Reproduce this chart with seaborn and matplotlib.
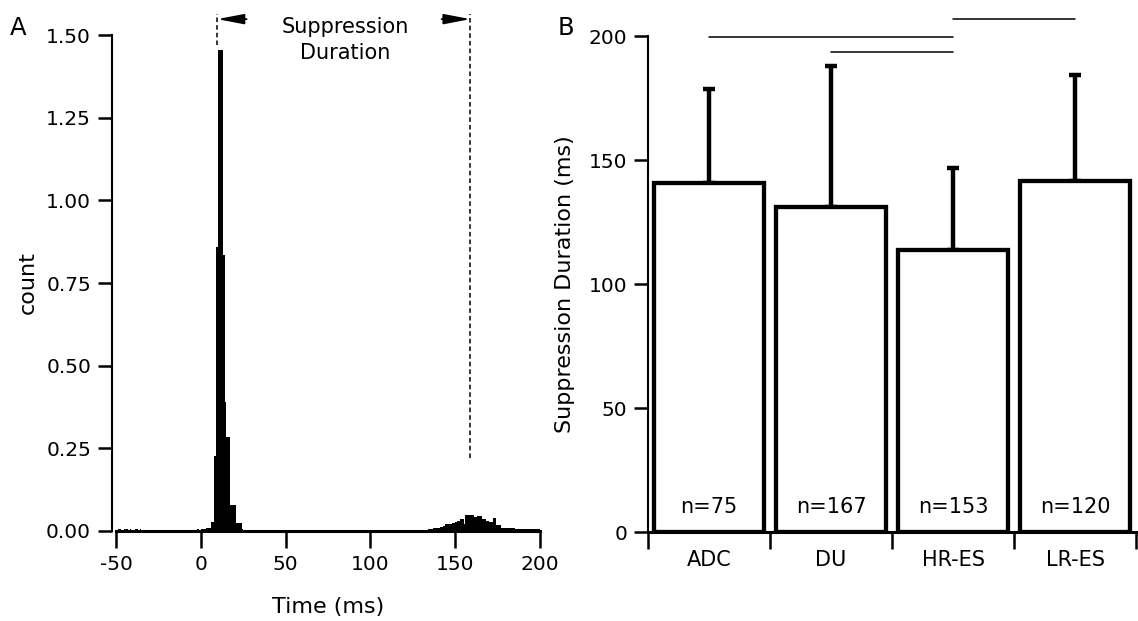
import numpy as np
import pandas as pd
import matplotlib
matplotlib.use("Agg")
import matplotlib.pyplot as plt
import seaborn as sns

# ---------------- data ----------------
# Panel A: histogram, 1 ms bins
bin_width = 1
pre_start = -50
pre_counts = [0.004, 0.005, 0.005, 0.004, 0.0, 0.005, 0.005, 0.004, 0.005, 0.0,
              0.004, 0.005, 0.005, 0.004, 0.005, 0.004]            # -50 .. -35
near0_start = -3
near0_counts = [0.004, 0.005, 0.0, 0.006, 0.005, 0.006, 0.008, 0.008, 0.008]  # -3 .. 5
peak_start = 6
peak_counts = [0.028, 0.028, 0.227, 0.86, 1.455, 1.455, 1.455, 0.835, 0.39, 0.285,
               0.285, 0.078, 0.078, 0.078, 0.078, 0.025, 0.025, 0.025, 0.007]  # 6 .. 24
hump_start = 130
hump_counts = [0.003, 0.003, 0.004, 0.004, 0.005, 0.005, 0.006, 0.008, 0.008, 0.009,
               0.01, 0.013, 0.013, 0.014, 0.02, 0.02, 0.022, 0.02, 0.025, 0.025,
               0.026, 0.031, 0.031, 0.037, 0.037, 0.022, 0.048, 0.048, 0.047, 0.048,
               0.048, 0.043, 0.043, 0.045, 0.045, 0.045, 0.035, 0.035, 0.031, 0.031,
               0.028, 0.028, 0.038, 0.038, 0.018, 0.018, 0.018, 0.01, 0.01, 0.008,
               0.008, 0.008, 0.008, 0.008, 0.008, 0.005, 0.005, 0.005, 0.005, 0.005,
               0.005, 0.005, 0.005, 0.005, 0.005, 0.005, 0.005, 0.005, 0.006, 0.006]  # 130 .. 199

# Panel B: bar chart
groups = ["ADC", "DU", "HR-ES", "LR-ES"]
means = [140.8, 131.0, 113.8, 141.5]
err_top = [178.8, 187.8, 146.8, 184.3]
n_labels = ["n=75", "n=167", "n=153", "n=120"]
sig_pairs = [(0, 2, 199.5), (1, 2, 193.5), (2, 3, 206.8)]

# -------------- build histogram table --------------
edges = np.arange(-50, 200 + bin_width, bin_width)
centers = edges[:-1] + bin_width / 2
weights = np.zeros(len(centers))
for start, vals in [(pre_start, pre_counts), (near0_start, near0_counts),
                    (peak_start, peak_counts), (hump_start, hump_counts)]:
    i0 = int((start - edges[0]) / bin_width)
    weights[i0:i0 + len(vals)] = vals
hist_df = pd.DataFrame({"t": centers, "w": weights})
bar_df = pd.DataFrame({"group": groups, "mean": means})

# ---------------- style ----------------
sns.set_theme(style="ticks")
plt.rcParams["font.family"] = ["DejaVu Sans"]
plt.rcParams.update({"text.color": "black", "axes.labelcolor": "black",
                     "xtick.color": "black", "ytick.color": "black",
                     "axes.edgecolor": "black"})
TICK_FS = 14.5
LABEL_FS = 16
TEXT_FS = 15

fig = plt.figure(figsize=(11.38, 6.21), dpi=100)

# ---------------- Panel A ----------------
axA = fig.add_axes([116 / 1138, 1 - 531 / 621, (540 - 116) / 1138, 496 / 621])
sns.histplot(data=hist_df, x="t", weights="w", binwidth=bin_width, binrange=(-50, 200),
             stat="count", color="black", edgecolor="none", alpha=1.0, linewidth=0,
             element="bars", ax=axA)
axA.set_xlim(-50, 200)
axA.set_ylim(0, 1.5)
axA.set_xticks([-50, 0, 50, 100, 150, 200])
axA.set_xticklabels(["-50", "0", "50", "100", "150", "200"])
axA.set_yticks([0, 0.25, 0.5, 0.75, 1.0, 1.25, 1.5])
axA.set_yticklabels(["0.00", "0.25", "0.50", "0.75", "1.00", "1.25", "1.50"])
axA.set_xlabel("Time (ms)", fontsize=LABEL_FS, labelpad=16)
axA.set_ylabel("count", fontsize=LABEL_FS)
axA.yaxis.set_label_coords(-0.184, 0.5)
for s in ["top", "right"]:
    axA.spines[s].set_visible(False)
axA.spines["left"].set_position(("outward", 3))
axA.spines["left"].set_linewidth(1.5)
axA.spines["bottom"].set_linewidth(2.2)
axA.tick_params(axis="y", length=10, width=1.8, labelsize=TICK_FS, pad=5)
axA.tick_params(axis="x", length=12.5, width=1.8, labelsize=TICK_FS, pad=5)

# annotation: suppression duration
x_left, x_right = 9.7, 159.0
arrow_y = 1.548
axA.plot([x_left, x_left], [1.47, 1.565], ls=(0, (3, 2)), color="black", lw=1.1, clip_on=False)
axA.plot([x_right, x_right], [0.22, 1.565], ls=(0, (3, 2)), color="black", lw=1.1, clip_on=False)
for head, tail in [(x_left, 27), (x_right, 142)]:
    axA.annotate("", xy=(head, arrow_y), xytext=(tail, arrow_y),
                 arrowprops=dict(arrowstyle="-|>,head_length=1.15,head_width=0.22",
                                 mutation_scale=14, color="black", lw=1.3,
                                 shrinkA=0, shrinkB=0),
                 annotation_clip=False)
axA.text(85, 1.485, "Suppression\nDuration", ha="center", va="center",
         fontsize=TEXT_FS, linespacing=1.35, clip_on=False)

# ---------------- Panel B ----------------
axB = fig.add_axes([648 / 1138, 1 - 532 / 621, (1136 - 648) / 1138, 496 / 621])
yerr = np.array([np.zeros(len(means)), np.array(err_top) - np.array(means)])
axB.errorbar(np.arange(len(groups)), means, yerr=yerr, fmt="none", ecolor="black",
             elinewidth=3.2, capsize=4.5, capthick=3.2, zorder=1)
sns.barplot(data=bar_df, x="group", y="mean", color="white", edgecolor="black",
            linewidth=3.1, width=0.9, errorbar=None, ax=axB, zorder=2)
axB.set_xlim(-0.5, 3.5)
axB.set_ylim(0, 200)
axB.set_yticks([0, 50, 100, 150, 200])
axB.set_xlabel("")
axB.set_ylabel("Suppression Duration (ms)", fontsize=LABEL_FS)
axB.yaxis.set_label_coords(-0.15, 0.5)
for s in ["top", "right"]:
    axB.spines[s].set_visible(False)
axB.spines["left"].set_linewidth(1.5)
axB.spines["bottom"].set_linewidth(2.2)
axB.tick_params(axis="y", length=10, width=1.8, labelsize=TICK_FS, pad=5)
axB.tick_params(axis="x", which="major", length=0, labelsize=TEXT_FS, pad=13)
axB.set_xticks([-0.5, 0.5, 1.5, 2.5, 3.5], minor=True)
axB.tick_params(axis="x", which="minor", length=12, width=1.8)
for i, lab in enumerate(n_labels):
    axB.text(i, 10, lab, ha="center", va="center", fontsize=TEXT_FS, zorder=5)
for a, b, y in sig_pairs:
    axB.plot([a, b], [y, y], color="black", lw=1.1, clip_on=False)

# panel letters
fig.text(10 / 1138, 1 - 28 / 621, "A", fontsize=17.5, va="center", ha="left")
fig.text(558 / 1138, 1 - 28 / 621, "B", fontsize=17.5, va="center", ha="left")

fig.savefig("out.png", dpi=100)
